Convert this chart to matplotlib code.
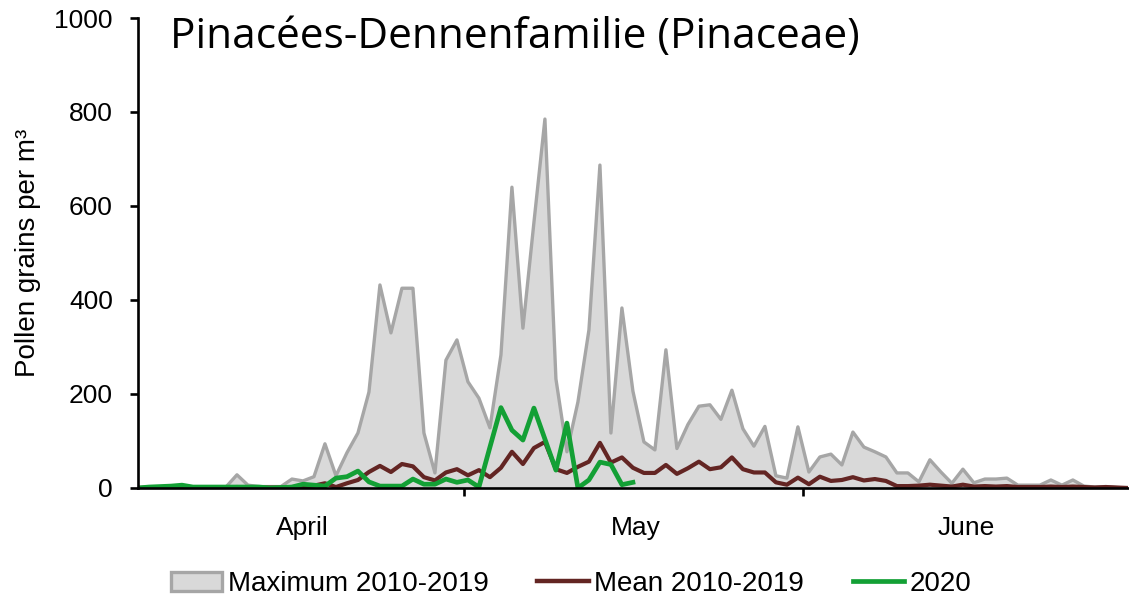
import matplotlib
matplotlib.use('Agg')
import matplotlib.pyplot as plt
from matplotlib.patches import Patch
from matplotlib.lines import Line2D

plt.rcParams['font.family'] = ['Liberation Sans', 'DejaVu Sans']

# daily values, 91 days (April - June)
maximum = [0, 0, 0, 0, 0, 0, 0, 0, 2, 28,
           6, 3, 3, 3, 19, 15, 24, 94, 26, 75,
           117, 204, 432, 330, 425, 425, 117, 32, 272, 315,
           226, 191, 128, 283, 640, 340, 565, 785, 232, 77,
           183, 336, 687, 117, 383, 206, 98, 81, 294, 84,
           135, 174, 177, 146, 208, 126, 89, 131, 26, 21,
           130, 34, 66, 72, 49, 119, 87, 77, 66, 32,
           32, 13, 60, 34, 10, 40, 11, 19, 19, 21,
           6, 6, 6, 17, 6, 17, 4, 2, 3, 1, 0]
mean = [0, 1, 1, 1, 1, 1, 1, 1, 1, 2,
        1, 1, 1, 1, 2, 3, 5, 10, 2, 10,
        17, 34, 47, 34, 51, 46, 23, 16, 33, 40,
        27, 38, 23, 43, 77, 51, 85, 98, 40, 32,
        45, 56, 96, 54, 65, 43, 32, 32, 49, 30,
        42, 56, 40, 44, 65, 40, 33, 33, 12, 7,
        22, 8, 24, 15, 17, 23, 16, 19, 15, 4,
        4, 5, 7, 5, 3, 7, 3, 4, 3, 4,
        2, 2, 2, 3, 2, 3, 2, 1, 2, 1, 0]
y2020 = [0, 2, 3, 4, 6, 2, 2, 2, 2, 2,
         2, 2, 0, 1, 2, 8, 6, 4, 21, 24,
         36, 13, 4, 4, 4, 19, 8, 8, 19, 12,
         17, 2, 87, 171, 123, 102, 170, 104, 38, 138,
         0, 17, 55, 50, 7, 12]

months = ['April', 'May', 'June']
month_centers = [14.9, 45.3, 75.3]
month_bounds = [29.64, 60.45]

fig = plt.figure(figsize=(11.29, 6), dpi=100)
ax = fig.add_axes([0.1222, 0.1867, 0.8768, 0.7833])

days = list(range(len(maximum)))
ax.fill_between(days, maximum, color='#d9d9d9', linewidth=0)
ax.plot(days, maximum, color='#a6a6a6', lw=2.4)
ax.plot(days, mean, color='#632523', lw=3.0)
ax.plot(range(len(y2020)), y2020, color='#13a035', lw=3.4)

ax.set_xlim(0, 90)
ax.set_ylim(0, 1000)
ax.set_yticks(range(0, 1001, 200))
ax.set_xticks(month_bounds)
ax.set_xticklabels([])
ax.set_xticks(month_centers, minor=True)
ax.set_xticklabels(months, minor=True)

for s in ['top', 'right']:
    ax.spines[s].set_visible(False)
for s in ['left', 'bottom']:
    ax.spines[s].set_linewidth(1.9)
ax.tick_params(axis='both', which='major', direction='out', length=6, width=1.9, labelsize=19)
ax.tick_params(axis='y', pad=12)
ax.tick_params(axis='x', which='minor', length=0, pad=20, labelsize=19)

ax.set_ylabel('Pollen grains per m³', fontsize=20, labelpad=10)

fig.text(170 / 1129, 1 - 48 / 600, 'Pinacées-Dennenfamilie (Pinaceae)',
         fontsize=30.5, family=['Open Sans', 'DejaVu Sans'], va='baseline', ha='left')

handles = [Patch(facecolor='#d9d9d9', edgecolor='#a6a6a6', lw=2.4),
           Line2D([], [], color='#632523', lw=3.2),
           Line2D([], [], color='#13a035', lw=3.4)]
fig.legend(handles, ['Maximum 2010-2019', 'Mean 2010-2019', '2020'],
           loc='center', bbox_to_anchor=(0.506, 1 - 584 / 600), ncol=3,
           frameon=False, fontsize=20, handlelength=1.85, handletextpad=0.2,
           columnspacing=1.75)

fig.savefig('out.png', dpi=100)
